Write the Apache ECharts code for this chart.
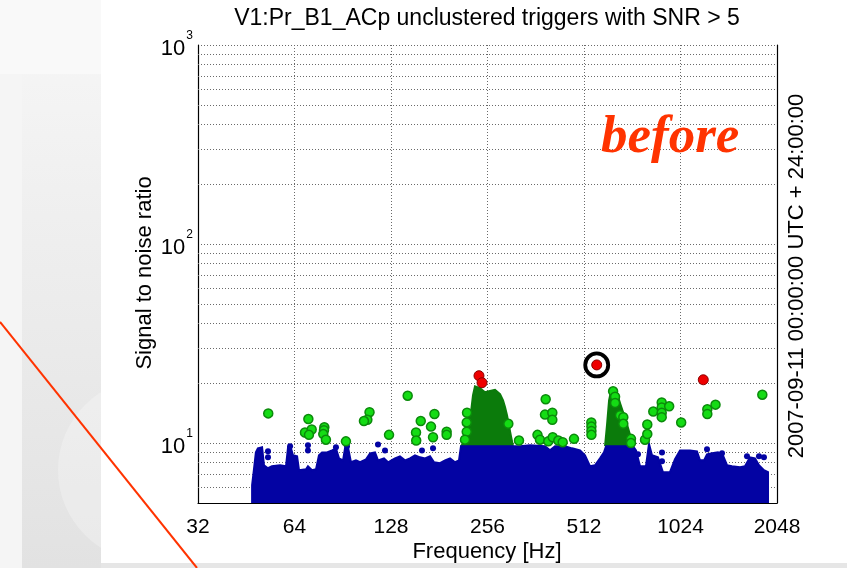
<!DOCTYPE html>
<html>
<head>
<meta charset="utf-8">
<script src="https://cdn.jsdelivr.net/npm/echarts@6/dist/echarts.min.js"></script>
<style>html,body{margin:0;padding:0;background:#fff}#c{width:847px;height:568px}</style>
</head>
<body>
<div id="c"></div>
<script>
// ---------- data (frequency in Hz, SNR) ----------
const xTicks = [32, 64, 128, 256, 512, 1024, 2048];
const yMajorTicks = [10, 100, 1000];
const yMinorGrid = [6, 7, 8, 9, 20, 30, 40, 50, 60, 70, 80, 90, 200, 300, 400, 500, 600, 700, 800, 900];

// upper envelope of the dense blue (unflagged) trigger cloud
const blueEnvelope = [
  [47.2,5],[47.2,6.15],[47.8,7.31],[48.5,8.98],[49.2,9.41],[50.7,9.52],[51.4,7.74],[52.9,7.48],[54.4,7.65],
  [57.7,7.74],[60.2,7.65],[61.1,9.52],[62.4,9.41],[63.3,8.68],[65.2,8.58],[66.1,7.31],[69.5,7.39],[70.5,7.65],
  [72.6,7.31],[74.7,7.39],[76.3,8.68],[78.0,8.98],[80.8,8.98],[83.8,9.19],[86.2,9.41],[88.1,8.38],[90.7,8.19],
  [92.0,9.41],[94.0,9.52],[96.0,8.01],[99.5,8.19],[102.5,8.01],[107.0,8.29],[110.1,8.88],[114.1,8.98],[116.6,8.19],
  [121.7,8.38],[125.3,8.01],[131.7,8.38],[136.5,8.58],[141.5,8.19],[146.7,8.38],[152.1,8.68],[157.7,8.48],
  [163.4,8.38],[169.4,8.58],[174.4,8.01],[182.0,7.92],[188.7,8.19],[195.6,8.38],[202.7,8.01],[208.6,8.19],
  [211.6,9.63],[307.5,9.63],[323.3,9.63],[347.5,9.74],[386.9,9.63],[401.1,9.19],[415.8,9.63],[446.6,9.63],
  [469.7,9.41],[497.6,9.19],[515.6,8.68],[534.5,7.65],[554.1,7.74],[574.3,8.38],[591.0,8.98],[599.7,9.63],
  [728.0,9.63],[743.9,9.19],[765.6,7.65],[799.1,7.65],[816.6,9.9],[834.3,8.68],[871.1,8.48],[903.0,7.14],
  [949.4,7.14],[984.3,8.29],[1020.5,9.19],[1096.3,9.19],[1152.6,9.09],[1177.9,8.19],[1212.5,8.19],[1238.7,8.78],
  [1283.5,8.88],[1340.8,8.98],[1389.1,8.68],[1430.1,7.74],[1482.6,7.65],[1570.2,7.57],[1627.2,7.65],[1686.4,8.48],
  [1748.5,8.38],[1799.4,7.74],[1865,7.31],[1920,7.14],[1920,5]
];
// isolated blue triggers sticking out above the cloud
const blueDots = [
  [52.9,9.09],[52.9,8.48],[62.0,9.63],[70.5,9.74],[70.5,9.19],[86.2,9.52],[93.3,9.63],[116.6,9.85],[122.6,9.19],
  [159.9,9.19],[173.1,9.41],[754.6,8.78],[896.6,8.98],[896.6,8.10],[1238.7,9.30],[1379.5,8.88],[1650.9,8.58],
  [1799.4,8.58],[1865,8.48]
];
// dense green clusters (upper envelope)
const greenCluster1 = [
  [211.6,9.66],[219.3,10.35],[222.5,13.05],[227.4,14.3],[230.7,17.4],[234.0,19.3],[242.5,18.9],[251.4,18.0],
  [260.6,18.25],[270.2,18.5],[280.1,17.6],[286.2,16.4],[290.3,15.2],[294.5,13.8],[298.8,12.2],[303.1,10.8],[307.5,9.66]
];
const greenCluster2 = [
  [595.5,9.66],[604.0,12.3],[613.0,16.4],[621.8,18.25],[635.1,18.5],[648.9,17.8],[663.1,15.9],[677.5,14.3],
  [692.2,12.9],[712.6,11.0],[728.0,9.66]
];
// individual green triggers
const greenPoints = [
  [53.0,14.1],[70.7,13.2],[69.0,11.3],[72.4,11.7],[71.0,11.0],[79.3,12.0],[79.1,11.6],[78.7,11.1],[80.2,10.4],
  [92.6,10.2],[109.7,14.3],[108,13.1],[105.4,12.9],[126.2,11.0],[144.3,17.3],[158.5,12.9],[153.2,11.3],[153.4,10.3],
  [174.9,14.0],[170.6,12.1],[173.1,10.7],[190.9,11.4],[190.9,11.0],[221.0,14.2],[220.5,12.7],[220.5,11.4],
  [217.8,10.4],[297.3,12.5],[321,10.3],[388.8,16.6],[386.9,13.9],[407.8,14.2],[407.8,13.1],[366.6,11.0],[373.2,10.4],
  [396.2,10.2],[409,10.7],[425.7,10.3],[439.3,10.1],[476.5,10.5],[539.6,12.7],[540,12.1],[540,11.5],[540,11.0],
  [631,18.2],[640,17.1],[640,15.9],[663,13.8],[679,13.5],[679,12.5],
  [717.5,10.5],[717.5,10.0],[793.6,10.4],[806.7,11.1],[806.7,12.4],[842.2,14.4],[894.7,16.0],[894.7,15.1],
  [894.7,14.2],[894.7,13.5],[944,15.3],[1029,12.7],[1241.6,14.8],[1241.6,14.0],[1316.8,15.6],[1843,17.5]
];
const redPoints = [[240.8,21.8],[246.1,20.1],[561,24.7],[1206,20.8]];
const targetPoint = [[561,24.7]];

// ---------- chart ----------
const FONT = '"Liberation Sans", Arial, Helvetica, sans-serif';
const dotted = {color:'#6a6a6a', width:1, type:[1,2]};
const areaSeries = (name, data, color, z) => ({
  type:'line', name, data, z, symbol:'none', showSymbol:false, smooth:false, step:false, silent:true,
  lineStyle:{color, width:2, join:'miter'}, areaStyle:{color, opacity:1, origin:'start'}
});
const chart = echarts.init(document.getElementById('c'), null, {renderer:'canvas'});
chart.setOption({
  backgroundColor:'#ffffff',
  animation:false,
  grid:{left:198, right:70, top:45, bottom:65, containLabel:false},
  xAxis:{
    type:'log', logBase:2, min:xTicks[0], max:xTicks[xTicks.length-1],
    axisLine:{show:true, onZero:false, lineStyle:{color:'#000', width:1.2}},
    axisTick:{show:false},
    splitLine:{show:true, lineStyle:dotted},
    axisLabel:{fontSize:21, color:'#000', fontFamily:FONT, margin:14,
      formatter:v=>String(Math.round(v))}
  },
  yAxis:[{
    type:'log', logBase:10, min:5, max:yMajorTicks[yMajorTicks.length-1],
    axisLine:{show:true, onZero:false, lineStyle:{color:'#000', width:1.2}},
    axisTick:{show:false},
    splitLine:{show:true, lineStyle:dotted},
    axisLabel:{margin:5, color:'#000', fontFamily:FONT,
      formatter:v=>{const l=Math.log10(v), e=Math.round(l); if(Math.abs(l-e)>1e-6) return ''; return '{b|10}{s|'+e+'}';},
      rich:{b:{fontSize:22, fontFamily:FONT, color:'#000', padding:[8,0,0,0], verticalAlign:'bottom'},
            s:{fontSize:12, fontFamily:FONT, color:'#000', verticalAlign:'top', padding:[0,0,0,1]}}
    }
  },{
    type:'log', logBase:10, min:5, max:1000, position:'right',
    axisLine:{show:true, onZero:false, lineStyle:{color:'#000', width:1.2}},
    axisTick:{show:false}, axisLabel:{show:false}, splitLine:{show:false}
  }],
  series:[
    {type:'line', name:'grid', data:[], z:1, silent:true, symbol:'none',
      markLine:{silent:true, symbol:'none', z:1, label:{show:false}, lineStyle:dotted,
        data:yMinorGrid.map(v=>({yAxis:v}))}},
    areaSeries('cluster1', greenCluster1, '#0b7b0b', 2),
    areaSeries('cluster2', greenCluster2, '#0b7b0b', 2),
    areaSeries('blue', blueEnvelope, '#0303a3', 3),
    {type:'scatter', name:'blueDots', data:blueDots, z:3, symbolSize:6, silent:true,
      itemStyle:{color:'#0303a3', opacity:1}},
    {type:'scatter', name:'green', data:greenPoints, z:4, symbolSize:9, silent:true,
      itemStyle:{color:'#14dc14', borderColor:'#0b8a0b', borderWidth:1.5, opacity:1}},
    {type:'scatter', name:'target', data:targetPoint, z:5, symbolSize:23, silent:true,
      itemStyle:{color:'#ffffff', borderColor:'#000', borderWidth:3.8, opacity:1}},
    {type:'scatter', name:'red', data:redPoints, z:6, symbolSize:10, silent:true,
      itemStyle:{color:'#ee0000', borderColor:'#8a0000', borderWidth:1, opacity:1}}
  ],
  graphic:[
    {type:'rect', z:-10, shape:{x:0,y:0,width:847,height:568}, style:{fill:'#e6e6e6'}},
    {type:'rect', z:-9, shape:{x:0,y:0,width:101,height:568},
      style:{fill:new echarts.graphic.LinearGradient(0,0,0,1,[{offset:0,color:'#f7f7f7'},{offset:1,color:'#e2e2e2'}])}},
    {type:'rect', z:-9, shape:{x:0,y:0,width:101,height:74}, style:{fill:'#f9f9f9'}},
    {type:'rect', z:-9, shape:{x:0,y:74,width:22,height:494}, style:{fill:'#f5f5f5'}},
    {type:'circle', z:-9, shape:{cx:150,cy:470,r:92}, style:{fill:'rgba(255,255,255,0.25)'}},
    {type:'rect', z:-8, shape:{x:101,y:0,width:746,height:563}, style:{fill:'#ffffff'}},
    {type:'text', z:10, x:487, y:19, style:{text:'V1:Pr_B1_ACp unclustered triggers with SNR > 5',
      font:'23px '+FONT, fill:'#000', align:'center', verticalAlign:'middle'}},
    {type:'text', z:10, x:145, y:273, rotation:Math.PI/2, style:{text:'Signal to noise ratio',
      font:'22px '+FONT, fill:'#000', align:'center', verticalAlign:'middle'}},
    {type:'text', z:10, x:487, y:552, style:{text:'Frequency [Hz]',
      font:'22px '+FONT, fill:'#000', align:'center', verticalAlign:'middle'}},
    {type:'text', z:10, x:797, y:276, rotation:Math.PI/2, style:{text:'2007-09-11 00:00:00 UTC + 24:00:00',
      font:'22px '+FONT, fill:'#000', align:'center', verticalAlign:'middle'}},
    {type:'text', z:10, x:601, y:112, style:{text:'before',
      font:'italic bold 53px "Liberation Serif", "Times New Roman", serif', fill:'#ff3300', align:'left', verticalAlign:'alphabetic'}},
    {type:'line', z:100, shape:{x1:0,y1:322,x2:197,y2:568}, style:{stroke:'#ff3300', lineWidth:2}}
  ]
});
</script>
</body>
</html>
